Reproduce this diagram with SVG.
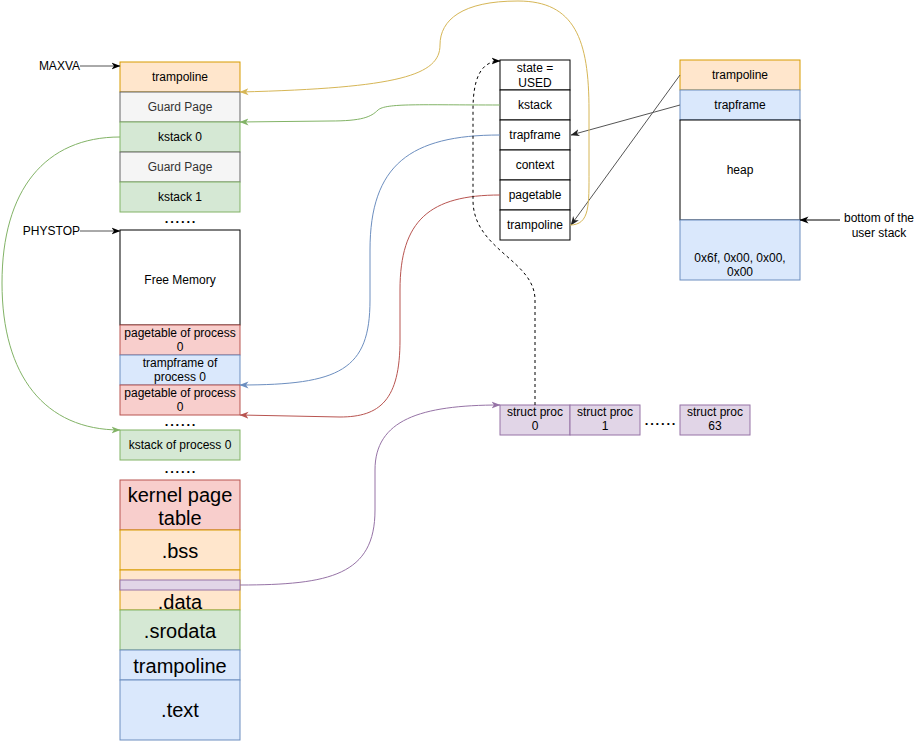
<svg xmlns="http://www.w3.org/2000/svg" width="921" height="741" viewBox="0 0 921 741">
<style>
text{font-family:"Liberation Sans",Arial,sans-serif;font-size:12px;fill:#000;text-anchor:middle}
.big{font-size:20px}
.dots{font-size:13px;letter-spacing:1.8px;font-weight:bold}
.gray{fill:#333333}
.lab{text-anchor:end}
.orange{fill:#ffe6cc;stroke:#d79b00}
.grey{fill:#f5f5f5;stroke:#666666}
.green{fill:#d5e8d4;stroke:#82b366}
.red{fill:#f8cecc;stroke:#b85450}
.blue{fill:#dae8fc;stroke:#6c8ebf}
.purple{fill:#e1d5e7;stroke:#9673a6}
.white{fill:#fff;stroke:#000}
.c{fill:none;stroke-width:1}
</style>
<defs>
<marker id="aK" markerUnits="userSpaceOnUse" markerWidth="9" markerHeight="8" viewBox="0 0 9 8" refX="8.5" refY="4" orient="auto"><path d="M0,0.5 L9,4 L0,7.5 L2.5,4 z" fill="#000"/></marker>
<marker id="aD" markerUnits="userSpaceOnUse" markerWidth="9" markerHeight="8" viewBox="0 0 9 8" refX="8.5" refY="4" orient="auto"><path d="M0,0.5 L9,4 L0,7.5 L2.5,4 z" fill="#222"/></marker>
<marker id="aY" markerUnits="userSpaceOnUse" markerWidth="9" markerHeight="8" viewBox="0 0 9 8" refX="8.5" refY="4" orient="auto"><path d="M0,0.5 L9,4 L0,7.5 L2.5,4 z" fill="#d6b656"/></marker>
<marker id="aG" markerUnits="userSpaceOnUse" markerWidth="9" markerHeight="8" viewBox="0 0 9 8" refX="8.5" refY="4" orient="auto"><path d="M0,0.5 L9,4 L0,7.5 L2.5,4 z" fill="#82b366"/></marker>
<marker id="aB" markerUnits="userSpaceOnUse" markerWidth="9" markerHeight="8" viewBox="0 0 9 8" refX="8.5" refY="4" orient="auto"><path d="M0,0.5 L9,4 L0,7.5 L2.5,4 z" fill="#6c8ebf"/></marker>
<marker id="aR" markerUnits="userSpaceOnUse" markerWidth="9" markerHeight="8" viewBox="0 0 9 8" refX="8.5" refY="4" orient="auto"><path d="M0,0.5 L9,4 L0,7.5 L2.5,4 z" fill="#b85450"/></marker>
<marker id="aP" markerUnits="userSpaceOnUse" markerWidth="9" markerHeight="8" viewBox="0 0 9 8" refX="8.5" refY="4" orient="auto"><path d="M0,0.5 L9,4 L0,7.5 L2.5,4 z" fill="#9673a6"/></marker>
</defs>

<!-- left column: kernel address space -->
<g id="k-trampoline"><rect x="120" y="62" width="120" height="30" class="orange"/><text x="180" y="81">trampoline</text></g>
<g id="k-guard0"><rect x="120" y="92" width="120" height="30" class="grey"/><text x="180" y="111" class="gray">Guard Page</text></g>
<g id="k-kstack0"><rect x="120" y="122" width="120" height="30" class="green"/><text x="180" y="141">kstack 0</text></g>
<g id="k-guard1"><rect x="120" y="152" width="120" height="30" class="grey"/><text x="180" y="171" class="gray">Guard Page</text></g>
<g id="k-kstack1"><rect x="120" y="182" width="120" height="30" class="green"/><text x="180" y="201">kstack 1</text></g>
<g id="dots1"><text x="181" y="223" class="dots">......</text></g>

<g id="free"><rect x="120" y="230" width="120" height="95" class="white"/><text x="180" y="284">Free Memory</text></g>
<g id="pt0a"><rect x="120" y="325" width="120" height="30" class="red"/><text x="180" y="337">pagetable of process</text><text x="180" y="351">0</text></g>
<g id="tf0"><rect x="120" y="355" width="120" height="30" class="blue"/><text x="180" y="367">trampframe of</text><text x="180" y="381">process 0</text></g>
<g id="pt0b"><rect x="120" y="385" width="120" height="30" class="red"/><text x="180" y="397">pagetable of process</text><text x="180" y="411">0</text></g>
<g id="dots2"><text x="181" y="426" class="dots">......</text></g>
<g id="ks0"><rect x="120" y="430" width="120" height="30" class="green"/><text x="180" y="449">kstack of process 0</text></g>
<g id="dots3"><text x="181" y="473" class="dots">......</text></g>

<g id="kpt"><rect x="120" y="480" width="120" height="50" class="red"/><text x="180" y="502" class="big">kernel page</text><text x="180" y="525" class="big">table</text></g>
<g id="bss"><rect x="120" y="530" width="120" height="40" class="orange"/><text x="180" y="558" class="big">.bss</text></g>
<g id="data"><rect x="120" y="570" width="120" height="40" class="orange"/><rect x="120" y="580" width="120" height="10" class="purple"/><text x="180" y="609" class="big">.data</text></g>
<g id="srodata"><rect x="120" y="610" width="120" height="40" class="green"/><text x="180" y="638" class="big">.srodata</text></g>
<g id="k-tramp2"><rect x="120" y="650" width="120" height="30" class="blue"/><text x="180" y="673" class="big">trampoline</text></g>
<g id="text"><rect x="120" y="680" width="120" height="60" class="blue"/><text x="180" y="717" class="big">.text</text></g>

<g id="maxva"><text x="80" y="70" class="lab">MAXVA</text></g>
<g id="physt"><text x="80" y="235" class="lab">PHYSTOP</text></g>

<!-- struct proc -->
<g id="proc">
<rect x="500" y="60" width="70" height="30" class="white"/><text x="535" y="72">state =</text><text x="535" y="87">USED</text>
<rect x="500" y="90" width="70" height="30" class="white"/><text x="535" y="109">kstack</text>
<rect x="500" y="120" width="70" height="30" class="white"/><text x="535" y="139">trapframe</text>
<rect x="500" y="150" width="70" height="30" class="white"/><text x="535" y="169">context</text>
<rect x="500" y="180" width="70" height="30" class="white"/><text x="535" y="199">pagetable</text>
<rect x="500" y="210" width="70" height="30" class="white"/><text x="535" y="229">trampoline</text>
</g>

<!-- user address space -->
<g id="u-tramp"><rect x="680" y="60" width="120" height="30" class="orange"/><text x="740" y="79">trampoline</text></g>
<g id="u-tf"><rect x="680" y="90" width="120" height="30" class="blue"/><text x="740" y="109">trapframe</text></g>
<g id="u-heap"><rect x="680" y="120" width="120" height="100" class="white"/><text x="740" y="174">heap</text></g>
<g id="u-stack"><rect x="680" y="220" width="120" height="60" class="blue"/><text x="740" y="262">0x6f, 0x00, 0x00,</text><text x="740" y="276">0x00</text></g>
<g id="bottom-label"><text x="879" y="222">bottom of the</text><text x="879" y="237">user stack</text></g>

<!-- proc array -->
<g id="sp0"><rect x="500" y="405" width="70" height="30" class="purple"/><text x="535" y="416">struct proc</text><text x="535" y="430">0</text></g>
<g id="sp1"><rect x="570" y="405" width="70" height="30" class="purple"/><text x="605" y="416">struct proc</text><text x="605" y="430">1</text></g>
<g id="dots4"><text x="661" y="425" class="dots">......</text></g>
<g id="sp63"><rect x="680" y="405" width="70" height="30" class="purple"/><text x="715" y="416">struct proc</text><text x="715" y="430">63</text></g>

<g id="connectors" class="c">
<path d="M80 66 L120 66" stroke="#555" fill="none" marker-end="url(#aK)"/>
<path d="M80 231 L120 231" stroke="#555" fill="none" marker-end="url(#aK)"/>
<path d="M840 220 L800 220" stroke="#000" fill="none" marker-end="url(#aK)"/>
<path d="M680 75 L571 225" stroke="#555" fill="none" marker-end="url(#aD)"/>
<path d="M680 105 L571 135" stroke="#555" fill="none" marker-end="url(#aD)"/>
<path d="M570 225 C590 225 589 205 589 170 L589 110 C589 40 575 1 518 1 C462 1 440 20 440 45 C440 75 400 88 240 92" stroke="#d6b656" fill="none" marker-end="url(#aY)"/>
<path d="M500 105 C420 105 386 103 378 110 C371 117 362 121 330 121 L240 122" stroke="#82b366" fill="none" marker-end="url(#aG)"/>
<path d="M120 137 C45 137 2 190 2 283 C2 376 45 430 120 430" stroke="#82b366" fill="none" marker-end="url(#aG)"/>
<path d="M500 135 C410 135 370 165 370 250 L370 300 C370 370 340 385 240 385" stroke="#6c8ebf" fill="none" marker-end="url(#aB)"/>
<path d="M500 195 C430 195 400 220 400 290 L400 340 C400 400 380 417 340 417 L240 415" stroke="#b85450" fill="none" marker-end="url(#aR)"/>
<path d="M240 585 C330 585 375 575 375 510 L375 470 C375 420 420 405 500 405" stroke="#9673a6" fill="none" marker-end="url(#aP)"/>
<path d="M535 405 L535 300 C535 260 473 250 473 200 L473 110 C473 80 480 61 500 61" stroke="#000" stroke-dasharray="3 3" fill="none" marker-end="url(#aK)"/>
</g>
</svg>
